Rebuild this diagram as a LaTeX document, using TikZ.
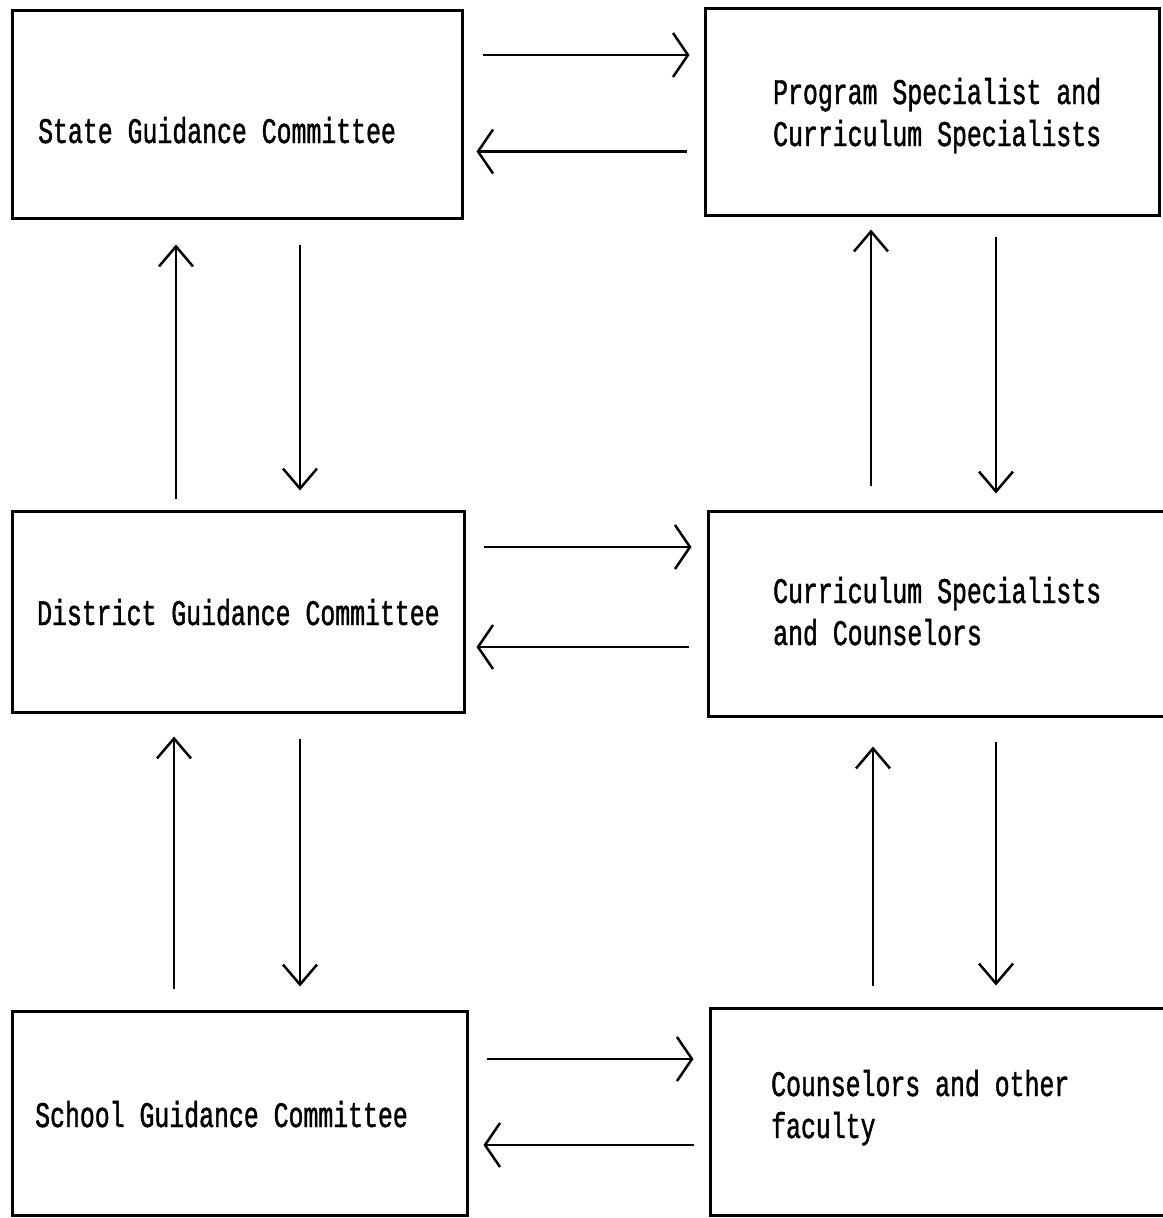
\documentclass[tikz,border=0pt]{standalone}
\usepackage{fontspec}
\newfontfamily\tw[FakeStretch=0.69,FakeBold=1.2]{Liberation Mono}
\usetikzlibrary{arrows.meta}
\begin{document}
\begin{tikzpicture}[x=1pt,y=-1pt,
  box/.style={draw=black,line width=3pt,inner sep=0pt,minimum width=#1},
  txt/.style={font=\tw\fontsize{36pt}{42pt}\selectfont,inner sep=0pt,align=left,anchor=base west},
  harr/.style={line width=2.5pt,-{Straight Barb[length=15pt,width=44pt,line width=2.5pt]}},
  varr/.style={line width=2.3pt,-{Straight Barb[length=20pt,width=34pt,line width=2.5pt]}}]
\useasboundingbox (0,0) rectangle (1162,1218);
% boxes
\node[box=450pt,minimum height=208pt] (A) at (237,114) {};
\node[box=454pt,minimum height=207pt] (B) at (932,111.5) {};
\node[box=452pt,minimum height=201pt] (C) at (238,611.5) {};
\node[box=456pt,minimum height=205pt] (D) at (936,613.5) {};
\node[box=455pt,minimum height=204pt] (E) at (239.5,1113) {};
\node[box=454pt,minimum height=207pt] (F) at (937,1111.5) {};
% texts (base anchor = baseline of the last line)
\node[txt] (tA) at (38,143) {State Guidance Committee};
\node[txt] (tB) at (773,146) {Program Specialist and\\Curriculum Specialists};
\node[txt] (tC) at (37,625) {District Guidance Committee};
\node[txt] (tD) at (773,645) {Curriculum Specialists\\and Counselors};
\node[txt] (tE) at (35,1127) {School Guidance Committee};
\node[txt] (tF) at (771,1138) {Counselors and other\\faculty};
% horizontal arrows
\draw[harr] ([shift={(19,-59)}]A.east) -- +(207,0);
\draw[harr] ([shift={(-17,40)}]B.west) -- +(-210,0);
\draw[harr] ([shift={(18,-64.5)}]C.east) -- +(208,0);
\draw[harr] ([shift={(-18,33.5)}]D.west) -- +(-212,0);
\draw[harr] ([shift={(18,-54)}]E.east) -- +(207,0);
\draw[harr] ([shift={(-15,33.5)}]F.west) -- +(-210,0);
% vertical arrows
\draw[varr] ([shift={(-62,-11)}]C.north) -- ([shift={(-61,25)}]A.south);
\draw[varr] ([shift={(63,25)}]A.south) -- ([shift={(62,-19)}]C.north);
\draw[varr] ([shift={(-65,-24)}]D.north) -- ([shift={(-61,13)}]B.south);
\draw[varr] ([shift={(64,20)}]B.south) -- ([shift={(60,-16)}]D.north);
\draw[varr] ([shift={(-65.5,-21)}]E.north) -- ([shift={(-64,23)}]C.south);
\draw[varr] ([shift={(62,25)}]C.south) -- ([shift={(60.5,-23)}]E.north);
\draw[varr] ([shift={(-64,-21)}]F.north) -- ([shift={(-63,29)}]D.south);
\draw[varr] ([shift={(60,24)}]D.south) -- ([shift={(59,-21)}]F.north);
\end{tikzpicture}
\end{document}
